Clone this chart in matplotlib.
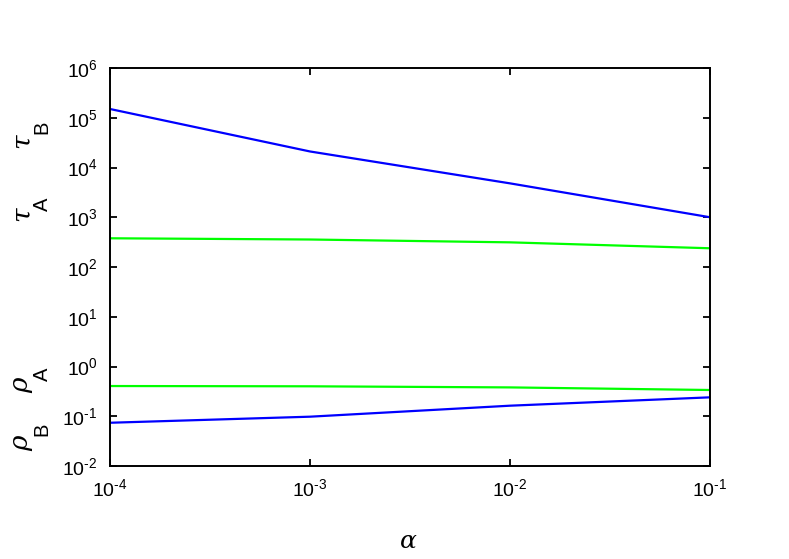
import math

import matplotlib
matplotlib.use("Agg")
import matplotlib.pyplot as plt
from matplotlib.ticker import FixedLocator, FuncFormatter, NullLocator

ALPHA = [1e-4, 1e-3, 1e-2, 1e-1]
TAU_B = [1.5e5, 2.1e4, 4.8e3, 1.0e3]
TAU_A = [378, 357, 313, 238]
RHO_A = [0.405, 0.40, 0.38, 0.337]
RHO_B = [0.074, 0.098, 0.163, 0.24]

X_TICKS = [1e-4, 1e-3, 1e-2, 1e-1]
Y_TICKS = [10.0 ** k for k in range(-2, 7)]

plt.rcParams["font.family"] = ["Liberation Sans", "DejaVu Sans"]
plt.rcParams["mathtext.fontset"] = "custom"
plt.rcParams["mathtext.rm"] = "Liberation Sans"
plt.rcParams["mathtext.it"] = "DejaVu Serif:italic"


def pow_label(v, pos):
    e = int(round(math.log10(v)))
    return r"10$^{\text{%d}}$" % e


fig = plt.figure(figsize=(7.89, 5.59), dpi=100)
ax = fig.add_axes([110 / 789, 1 - 466 / 559, 600 / 789, 398 / 559])

blue = "#0000ff"
green = "#00ff00"
ax.plot(ALPHA, TAU_B, color=blue, lw=1.6)
ax.plot(ALPHA, TAU_A, color=green, lw=1.6)
ax.plot(ALPHA, RHO_A, color=green, lw=1.6)
ax.plot(ALPHA, RHO_B, color=blue, lw=1.6)

ax.set_xscale("log")
ax.set_yscale("log")
ax.set_xlim(1e-4, 1e-1)
ax.set_ylim(1e-2, 1e6)
ax.xaxis.set_major_locator(FixedLocator(X_TICKS))
ax.yaxis.set_major_locator(FixedLocator(Y_TICKS))
ax.xaxis.set_minor_locator(NullLocator())
ax.yaxis.set_minor_locator(NullLocator())
ax.xaxis.set_major_formatter(FuncFormatter(pow_label))
ax.yaxis.set_major_formatter(FuncFormatter(pow_label))

ax.tick_params(direction="in", length=5, width=1.3, labelsize=14,
               top=True, right=True)
ax.tick_params(axis="x", pad=9)
ax.tick_params(axis="y", pad=9)
for s in ax.spines.values():
    s.set_linewidth(1.4)

# rotated axis symbols, drawn as symbol + upright subscript
labels = [
    ("τ", "B", 141, 127),
    ("τ", "A", 214, 204),
    ("ρ", "A", 385, 374),
    ("ρ", "B", 443, 429),
]
for sym, sub, y_sym, y_sub in labels:
    fig.text(21 / 789, 1 - y_sym / 559, sym, rotation=90, ha="center",
             va="center", fontsize=19, family="DejaVu Serif", style="italic")
    fig.text(42 / 789, 1 - y_sub / 559, sub, rotation=90, ha="center",
             va="center", fontsize=14.5)

fig.text(408 / 789, 1 - 542 / 559, "α", ha="center", va="center",
         fontsize=18, family="DejaVu Serif", style="italic")

fig.savefig("out.png", dpi=100)
